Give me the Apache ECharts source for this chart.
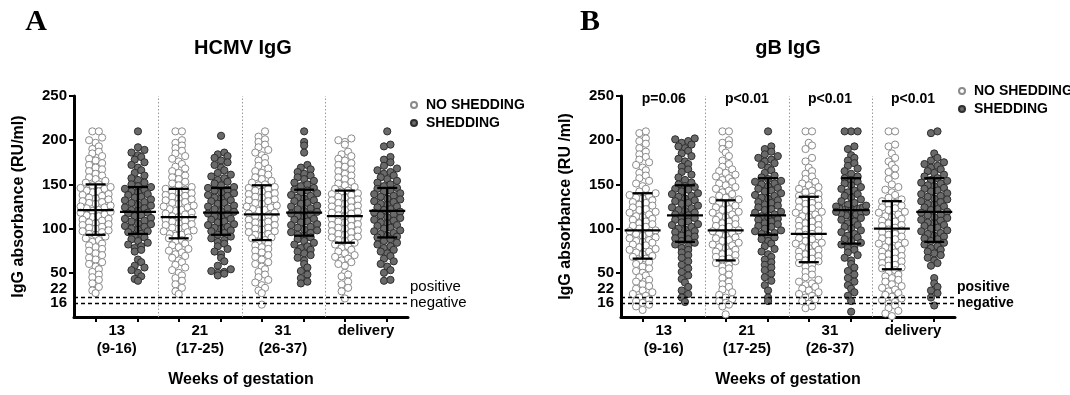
<!DOCTYPE html>
<html>
<head>
<meta charset="utf-8">
<script src="https://cdn.jsdelivr.net/npm/echarts@6/dist/echarts.min.js"></script>
<style>html,body{margin:0;padding:0;background:#fff;}#c{width:1070px;height:395px;}</style>
</head>
<body>
<div id="c"></div>
<script>
// ---------------- DATA ----------------
const CATEGORIES = ['13\n(9-16)', '21\n(17-25)', '31\n(26-37)', 'delivery'];
const Y_TICK_LABELS = [0, 16, 22, 50, 100, 150, 200, 250];
const Y_MAJOR_TICKS = [0, 50, 100, 150, 200, 250];
const CUTOFFS = [22, 16];
const CUTOFF_LABELS = ['positive', 'negative'];
const P_VALUES_GB = ['p=0.06', 'p<0.01', 'p<0.01', 'p<0.01'];
const SERIES_NAMES = ['NO SHEDDING', 'SHEDDING'];

// HCMV IgG – no shedding, per gestation group
const hcmvNS13 = [210,210,203,200,197,193,190,187,185,182,179,177,174,172,169,167,165,162,160,158,156,154,152,
  150,149,147,146,145,143,142,141,139,138,137,135,134,133,131,130,129,128,126,125,124,123,121,120,119,118,116,115,114,113,111,110,109,107,106,105,104,102,101,100,98,97,96,94,93,
  91,89,87,85,83,81,79,77,75,72,70,67,65,62,60,57,54,51,48,45,42,38,34,30,27];
const hcmvNS21 = [210,210,200,197,194,191,188,185,182,179,176,173,170,168,165,163,160,158,156,153,151,149,147,
  145,144,142,141,140,138,137,136,134,133,132,130,129,128,126,125,124,122,121,120,118,117,116,114,113,112,110,109,108,106,105,104,102,101,100,98,97,96,94,93,92,90,89,
  87,85,83,81,79,77,75,73,71,69,67,64,62,59,56,53,50,47,44,41,37,33,29,26];
const hcmvNS31 = [210,204,201,198,195,192,189,186,183,180,177,174,171,168,165,163,161,158,156,154,152,150,
  149,147,146,145,143,142,140,139,138,136,135,133,132,131,129,128,126,125,124,122,121,120,118,117,115,114,113,111,110,108,107,106,104,103,101,100,99,97,96,94,93,92,90,89,87,
  85,83,81,79,77,75,73,70,68,65,62,60,57,54,51,48,45,42,39,36,33,30,27,14];
const hcmvNSDel = [202,200,198,195,187,184,182,179,177,174,172,170,167,165,162,160,158,156,153,151,149,147,145,
  143,142,140,139,138,136,135,133,132,131,129,128,126,125,124,122,121,119,118,117,115,114,112,111,110,108,107,105,104,103,101,100,98,97,96,94,93,91,90,89,87,86,84,
  82,80,78,76,74,72,70,68,66,64,62,60,58,50,48,46,40,37,33,29,21];
// HCMV IgG – shedding
const hcmvS13 = [210,192,189,186,183,181,178,175,172,169,166,163,160,157,155,152,150,148,
  147,145,144,142,141,139,138,136,135,133,132,130,129,127,126,124,123,121,120,118,117,115,114,112,111,109,108,106,105,103,102,100,99,97,96,94,
  92,90,88,86,84,82,80,78,76,74,65,62,58,56,53,50,46,43,41];
const hcmvS21 = [205,186,184,182,180,177,175,172,169,166,163,161,159,157,155,153,151,149,147,
  146,144,143,141,140,138,137,135,134,132,131,129,128,126,125,123,122,120,119,117,116,114,113,111,110,108,107,105,104,102,101,100,98,97,95,93,
  91,89,87,85,83,80,77,74,71,67,63,58,54,52,51,50,49,47];
const hcmvS31 = [210,198,194,186,172,169,167,164,162,160,158,156,154,152,150,148,146,
  144,143,141,140,138,137,135,134,132,131,129,128,126,125,123,122,120,119,117,116,114,113,111,110,108,107,105,104,102,101,99,98,96,95,93,92,
  90,88,86,84,82,80,78,76,74,72,70,67,64,60,56,52,48,44,40,38];
const hcmvSDel = [210,195,193,181,178,175,171,168,166,164,162,160,158,156,154,152,150,148,
  146,145,143,142,140,139,137,136,134,133,131,130,128,127,125,124,122,121,119,118,116,115,113,112,110,109,107,106,104,103,101,100,98,97,95,94,92,91,90,
  88,86,84,82,80,78,76,74,72,69,66,63,60,57,53,50,42,41];

// gB IgG – no shedding
const gbNS13 = [210,208,202,199,196,191,187,184,181,178,175,172,169,166,163,160,157,154,151,148,145,142,
  140,138,137,135,134,132,130,129,127,126,124,122,121,119,118,116,114,113,111,110,108,106,105,103,102,100,98,97,95,94,92,90,89,87,86,85,84,82,81,79,77,76,74,73,71,69,68,66,
  64,62,60,57,55,52,50,47,45,42,40,37,35,32,30,28,26,24,22,20,18,16,14,12,8];
const gbNS21 = [210,210,200,197,195,190,186,182,177,173,170,167,165,163,161,159,157,155,153,151,149,147,145,143,141,139,137,135,133,
  132,130,129,127,126,124,122,121,119,118,116,114,113,111,110,108,106,105,103,102,100,98,97,95,94,92,90,89,87,86,84,82,81,79,78,76,74,73,71,70,68,66,65,
  63,61,59,57,55,52,48,44,40,37,34,31,28,25,22,20,18,16,14,12,3];
const gbNS31 = [210,210,197,194,190,180,176,169,165,162,159,156,153,151,149,147,145,143,141,139,137,
  136,134,133,131,129,128,126,124,123,121,119,118,116,114,113,111,109,108,106,104,103,101,99,98,96,94,93,91,89,88,86,84,83,81,79,78,76,74,73,71,69,68,66,64,63,
  61,59,57,54,51,48,45,42,40,38,36,34,32,30,28,26,24,22,20,18,15,12,10];
const gbNSDel = [210,210,195,193,185,180,176,172,168,164,160,156,150,147,144,141,138,135,133,
  131,129,128,126,124,123,121,119,118,116,114,113,111,109,108,106,104,103,101,99,98,96,94,93,91,89,88,86,84,83,81,79,78,76,74,73,71,69,68,66,64,63,61,59,58,56,55,
  53,50,48,46,44,42,40,37,35,33,31,29,27,25,23,21,19,17,15,13,10,7,4,1];
// gB IgG – shedding
const gbS13 = [202,201,199,197,195,193,191,188,185,182,179,176,173,170,167,164,161,158,155,152,150,
  148,147,145,144,142,140,139,137,136,134,132,131,129,128,126,124,123,121,120,118,116,115,113,112,110,108,107,105,104,102,100,99,97,96,94,92,91,89,88,86,
  84,82,80,78,76,73,70,67,63,59,55,51,47,43,39,34,30,26,22,17];
const gbS21 = [210,193,190,187,184,182,180,178,176,174,172,169,166,163,160,158,
  156,154,153,151,150,148,146,145,143,142,140,138,137,135,134,132,130,129,127,126,124,122,121,119,118,116,114,113,111,110,108,106,105,103,102,100,98,97,95,94,
  92,90,88,86,83,80,77,74,71,68,65,62,59,56,53,49,45,41,36,30,22,18];
const gbS31 = [210,210,210,193,190,183,180,177,174,171,168,165,162,159,
  157,155,153,151,149,147,145,143,141,139,137,135,133,131,129,127,126,125,124,123,123,122,122,121,121,120,120,119,119,118,117,116,115,114,112,110,108,106,104,102,100,98,96,94,92,90,88,86,84,
  82,80,78,76,73,70,67,64,60,56,52,48,44,40,36,32,28,24,18,6];
const gbSDel = [210,208,185,180,177,175,173,171,169,167,165,163,161,159,
  157,155,154,152,151,149,148,146,145,143,142,140,139,137,136,134,133,131,130,128,127,125,124,122,121,119,118,116,115,113,112,110,109,107,106,104,103,101,100,98,97,95,94,92,91,89,88,86,
  84,82,80,78,76,74,72,70,67,64,61,58,44,38,34,30,27,22,13];

// mean and SD limits
const hcmvNSMean = [121, 113, 116, 114];
const hcmvNSLow  = [93, 89, 87, 84];
const hcmvNSHigh = [150, 145, 149, 143];
const hcmvSMean  = [119, 118, 118, 120];
const hcmvSLow   = [94, 93, 92, 90];
const hcmvSHigh  = [147, 146, 144, 146];
const gbNSMean = [98, 98, 94, 100];
const gbNSLow  = [66, 64, 62, 54];
const gbNSHigh = [140, 132, 136, 131];
const gbSMean  = [115, 115, 121, 119];
const gbSLow   = [85, 93, 83, 85];
const gbSHigh  = [149, 157, 157, 157];

// ---------------- LAYOUT / STYLE ----------------
const FONT = '"Liberation Sans", Arial, Helvetica, sans-serif';
const GRIDS = [{left: 74, top: 96}, {left: 621, top: 96}];
const GRID_W = 334, GRID_H = 221;
const X_MAX = 4.02, Y_MAX = 250;
const COL_OFF = [0.26, 0.77];
const SEP_OFF = 1.02;
const PX_PER_X = GRID_W / X_MAX, PX_PER_Y = GRID_H / Y_MAX;
const MARK = 7.2;          // marker diameter (px)
const ROW_H = 6.2;         // row height of the dot plot (px)
const DOT_GAP = 6.5;       // preferred horizontal spacing in a row (px)
const HALF_W = 15;         // max horizontal offset (px)

function colX(g, c) { return g + COL_OFF[c]; }

// scatter-dot-plot layout: points binned in rows, each row centred on the column
function dotRows(values, cx) {
  const rows = new Map();
  values.forEach(v => {
    const r = Math.floor(v * PX_PER_Y / ROW_H);
    if (!rows.has(r)) rows.set(r, []);
    rows.get(r).push(v);
  });
  const out = [];
  rows.forEach(list => {
    list.sort((a, b) => a - b);
    const n = list.length;
    const gap = n > 1 ? Math.min(DOT_GAP, 2 * HALF_W / (n - 1)) : 0;
    const slots = [];
    for (let j = 0; j < n; j++) slots.push((j - (n - 1) / 2) * gap);
    slots.sort((a, b) => Math.abs(a) - Math.abs(b) || a - b);
    list.forEach((v, j) => out.push([cx + slots[j] / PX_PER_X, v]));
  });
  return out;
}

const panels = [
  {
    title: 'HCMV IgG', letter: 'A', yName: 'IgG absorbance (RU/ml)',
    ns: [hcmvNS13, hcmvNS21, hcmvNS31, hcmvNSDel],
    s: [hcmvS13, hcmvS21, hcmvS31, hcmvSDel],
    nsStats: [hcmvNSMean, hcmvNSLow, hcmvNSHigh],
    sStats: [hcmvSMean, hcmvSLow, hcmvSHigh],
    pValues: null, cutBold: false,
    legendLeft: 405, legendTop: 93,
    titleX: 243, letterX: 36
  },
  {
    title: 'gB IgG', letter: 'B', yName: 'IgG absorbance (RU /ml)',
    ns: [gbNS13, gbNS21, gbNS31, gbNSDel],
    s: [gbS13, gbS21, gbS31, gbSDel],
    nsStats: [gbNSMean, gbNSLow, gbNSHigh],
    sStats: [gbSMean, gbSLow, gbSHigh],
    pValues: P_VALUES_GB, cutBold: true,
    legendLeft: 953, legendTop: 79,
    titleX: 788, letterX: 590
  }
];

const grid = [], xAxis = [], yAxis = [], series = [], legend = [], graphic = [];

panels.forEach((P, pi) => {
  grid.push({left: GRIDS[pi].left, top: GRIDS[pi].top, width: GRID_W, height: GRID_H,
             containLabel: false, outerBoundsMode: 'none'});
  const colCenters = [];
  for (let g = 0; g < 4; g++) { colCenters.push(colX(g, 0), colX(g, 1)); }
  const groupCenters = [0, 1, 2, 3].map(g => (colX(g, 0) + colX(g, 1)) / 2);
  xAxis.push({
    type: 'value', gridIndex: pi, min: 0, max: X_MAX,
    name: 'Weeks of gestation', nameLocation: 'middle', nameGap: 55,
    nameTextStyle: {fontFamily: FONT, fontWeight: 'bold', fontSize: 16, color: '#000'},
    axisLine: {show: true, onZero: false, lineStyle: {color: '#000', width: 3}},
    axisTick: {show: true, inside: false, length: 5, lineStyle: {color: '#000', width: 2}, customValues: colCenters},
    axisLabel: {
      show: true, margin: 5, customValues: groupCenters,
      fontFamily: FONT, fontWeight: 'bold', fontSize: 15, color: '#000', lineHeight: 18,
      formatter: (v) => CATEGORIES[Math.round(v - groupCenters[0])]
    },
    splitLine: {show: false}
  });
  yAxis.push({
    type: 'value', gridIndex: pi, min: 0, max: Y_MAX, interval: 50,
    name: P.yName, nameLocation: 'middle', nameGap: 47, nameRotate: 90,
    nameTextStyle: {fontFamily: FONT, fontWeight: 'bold', fontSize: 16, color: '#000'},
    axisLine: {show: true, lineStyle: {color: '#000', width: 3}},
    axisTick: {show: true, inside: false, length: 5, lineStyle: {color: '#000', width: 2}, customValues: Y_MAJOR_TICKS},
    axisLabel: {
      show: true, margin: 7, customValues: Y_TICK_LABELS,
      fontFamily: FONT, fontWeight: 'bold', fontSize: 15, color: '#000',
      formatter: (v) => v === 22 ? '{up|22}' : String(v),
      rich: {up: {fontFamily: FONT, fontWeight: 'bold', fontSize: 15, color: '#000', padding: [0, 0, 17, 0]}}
    },
    splitLine: {show: false}
  });

  const cutStyle = {fontFamily: FONT, fontWeight: P.cutBold ? 'bold' : 'normal',
                    fontSize: P.cutBold ? 14 : 15, color: '#000'};
  const markData = [];
  CUTOFFS.forEach((c, k) => {
    markData.push({
      yAxis: c,
      lineStyle: {type: [4, 3], color: '#000', width: 1.3},
      label: {show: true, position: 'end', distance: 2,
              formatter: k === 0 ? '{a|' + CUTOFF_LABELS[k] + '}' : '{b|' + CUTOFF_LABELS[k] + '}',
              rich: {a: Object.assign({padding: [0, 0, 21, 0]}, cutStyle),
                     b: Object.assign({padding: [0, 0, 0, 0]}, cutStyle)}}
    });
  });
  for (let g = 0; g < 3; g++) {
    markData.push({xAxis: g + SEP_OFF, lineStyle: {type: [1.5, 2], color: '#9a9a9a', width: 1},
                   label: {show: false}});
  }

  const nsData = [], sData = [];
  for (let g = 0; g < 4; g++) {
    dotRows(P.ns[g], colX(g, 0)).forEach(d => nsData.push(d));
    dotRows(P.s[g], colX(g, 1)).forEach(d => sData.push(d));
  }
  series.push({
    name: SERIES_NAMES[0], type: 'scatter', xAxisIndex: pi, yAxisIndex: pi,
    symbol: 'circle', symbolSize: MARK, data: nsData, z: 2,
    itemStyle: {color: '#ffffff', borderColor: '#8a8a8a', borderWidth: 1, opacity: 1},
    emphasis: {disabled: true}, silent: true,
    markLine: {silent: true, symbol: ['none', 'none'], animation: false, data: markData}
  });
  series.push({
    name: SERIES_NAMES[1], type: 'scatter', xAxisIndex: pi, yAxisIndex: pi,
    symbol: 'circle', symbolSize: MARK, data: sData, z: 2,
    itemStyle: {color: '#6a6a6a', borderColor: '#2e2e2e', borderWidth: 1, opacity: 1},
    emphasis: {disabled: true}, silent: true
  });

  const ebData = [];
  for (let g = 0; g < 4; g++) {
    ebData.push([colX(g, 0), P.nsStats[0][g], P.nsStats[1][g], P.nsStats[2][g]]);
    ebData.push([colX(g, 1), P.sStats[0][g], P.sStats[1][g], P.sStats[2][g]]);
  }
  series.push({
    type: 'custom', xAxisIndex: pi, yAxisIndex: pi, z: 5, silent: true,
    data: ebData,
    renderItem: (params, api) => {
      const m = api.coord([api.value(0), api.value(1)]);
      const lo = api.coord([api.value(0), api.value(2)]);
      const hi = api.coord([api.value(0), api.value(3)]);
      const st = {stroke: '#000', lineWidth: 2.3};
      return {type: 'group', children: [
        {type: 'line', shape: {x1: m[0] - 18, y1: m[1], x2: m[0] + 18, y2: m[1]}, style: st},
        {type: 'line', shape: {x1: hi[0], y1: hi[1], x2: lo[0], y2: lo[1]}, style: st},
        {type: 'line', shape: {x1: hi[0] - 10, y1: hi[1], x2: hi[0] + 10, y2: hi[1]}, style: st},
        {type: 'line', shape: {x1: lo[0] - 10, y1: lo[1], x2: lo[0] + 10, y2: lo[1]}, style: st}
      ]};
    }
  });

  if (P.pValues) {
    series.push({
      type: 'custom', xAxisIndex: pi, yAxisIndex: pi, z: 6, silent: true,
      data: groupCenters.map((x, g) => [x, 247, P.pValues[g]]),
      renderItem: (params, api) => {
        const pt = api.coord([api.value(0), api.value(1)]);
        return {type: 'text', x: pt[0], y: pt[1],
                style: {text: P.pValues[params.dataIndex], align: 'center', verticalAlign: 'middle',
                        font: 'bold 14px ' + FONT, fill: '#000'}};
      }
    });
  }

  legend.push({
    orient: 'vertical', left: P.legendLeft, top: P.legendTop,
    itemWidth: 14, itemHeight: 6, itemGap: 4, icon: 'circle',
    selectedMode: false,
    textStyle: {fontFamily: FONT, fontWeight: 'bold', fontSize: 14, color: '#000'},
    data: SERIES_NAMES
  });

  graphic.push({type: 'text', x: P.titleX, y: 48,
                style: {text: P.title, align: 'center', verticalAlign: 'middle',
                        font: 'bold 20px ' + FONT, fill: '#000'}});
  graphic.push({type: 'text', x: P.letterX, y: 22,
                style: {text: P.letter, align: 'center', verticalAlign: 'middle',
                        font: 'bold 30px "Liberation Serif", "Times New Roman", serif', fill: '#000'}});
});

const chart = echarts.init(document.getElementById('c'), null, {renderer: 'canvas'});
chart.setOption({
  animation: false,
  backgroundColor: '#ffffff',
  grid, xAxis, yAxis, series, legend, graphic
});
</script>
</body>
</html>
